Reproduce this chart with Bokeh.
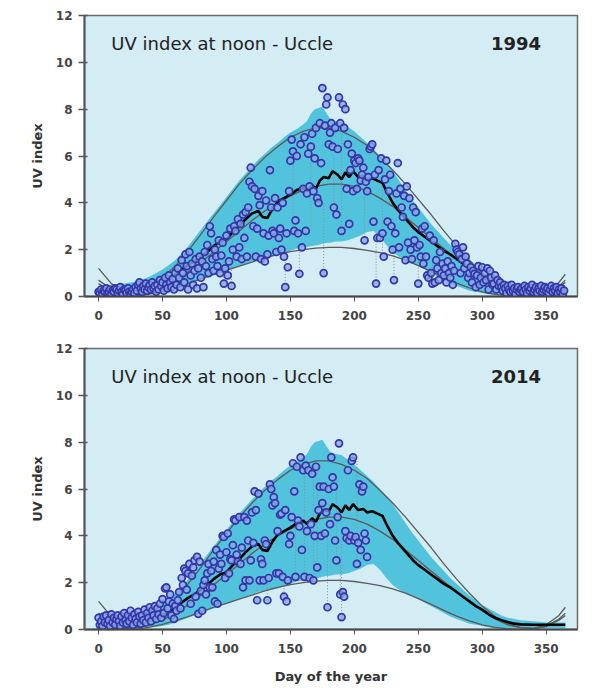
from bokeh.plotting import figure
from bokeh.layouts import column
from bokeh.models import Label, FixedTicker, Range1d
from bokeh.embed import file_html
from bokeh.resources import INLINE

# ---------------- data ----------------
x_ticks = [0, 50, 100, 150, 200, 250, 300, 350]
y_ticks = [0, 2, 4, 6, 8, 10, 12]

curve_day = [0, 10, 20, 30, 40, 50, 60, 70, 80, 90, 100, 110, 120, 130, 140, 150, 160, 170, 180,
             190, 200, 210, 220, 230, 240, 250, 260, 270, 280, 290, 300, 310, 320, 330, 340, 350, 360, 365]
clear_upper = [1.2, 0.55, 0.2, 0.15, 0.35, 0.8, 1.3, 1.95, 2.65, 3.4, 4.1, 4.8, 5.4, 5.95, 6.4, 6.8, 7.05, 7.2, 7.2,
               7.05, 6.8, 6.45, 5.95, 5.4, 4.8, 4.15, 3.5, 2.8, 2.15, 1.55, 1.0, 0.55, 0.25, 0.08, 0.05, 0.2, 0.6, 0.95]
clear_middle = [0.7, 0.3, 0.1, 0.08, 0.2, 0.4, 0.7, 1.05, 1.45, 1.9, 2.35, 2.8, 3.25, 3.65, 4.0, 4.3, 4.55, 4.7, 4.8,
                4.8, 4.7, 4.5, 4.2, 3.85, 3.4, 2.95, 2.5, 2.05, 1.6, 1.2, 0.8, 0.45, 0.2, 0.08, 0.05, 0.15, 0.45, 0.7]
clear_lower = [0.55, 0.2, 0.05, 0.02, 0.1, 0.22, 0.38, 0.55, 0.75, 0.95, 1.12, 1.3, 1.47, 1.65, 1.8, 1.92, 2.0, 2.07, 2.1,
               2.1, 2.05, 1.97, 1.87, 1.73, 1.55, 1.32, 1.07, 0.82, 0.57, 0.37, 0.2, 0.09, 0.03, 0.0, 0.03, 0.12, 0.4, 0.6]

band_day = [5, 10, 15, 20, 25, 30, 35, 40, 45, 50, 55, 60, 65, 70, 75, 80, 85, 90, 95, 100, 105, 110, 115, 120,
            125, 130, 135, 140, 145, 150, 155, 160, 163, 166, 169, 172, 175, 178, 181, 185, 190, 195, 200, 205,
            210, 215, 220, 225, 230, 235, 240, 245, 250, 255, 260, 265, 270, 275, 280, 285, 290, 295, 300, 305,
            310, 315, 320, 325, 330, 340, 350, 360, 365]
band_hi = [0.35, 0.45, 0.5, 0.55, 0.6, 0.65, 0.75, 0.85, 1.0, 1.15, 1.35, 1.55, 1.85, 2.15, 2.5, 2.85, 3.2, 3.55, 3.9,
           4.25, 4.6, 4.95, 5.25, 5.55, 5.85, 6.1, 6.35, 6.55, 6.8, 7.0, 7.15, 7.35, 7.5, 7.8, 8.0, 8.05, 8.1, 7.85,
           7.6, 7.5, 7.45, 7.25, 7.05, 6.8, 6.55, 6.3, 6.0, 5.7, 5.35, 4.95, 4.55, 4.15, 3.8, 3.45, 3.1, 2.8, 2.5,
           2.2, 1.95, 1.7, 1.45, 1.25, 1.05, 0.9, 0.75, 0.6, 0.5, 0.45, 0.4, 0.35, 0.3, 0.3, 0.3]
band_lo = [0.05, 0.05, 0.05, 0.05, 0.05, 0.05, 0.08, 0.1, 0.12, 0.15, 0.2, 0.3, 0.4, 0.5, 0.6, 0.7, 0.8, 0.9, 1.0,
           1.1, 1.2, 1.3, 1.4, 1.5, 1.6, 1.65, 1.7, 1.75, 1.85, 1.95, 2.05, 2.1, 2.12, 2.15, 2.18, 2.2, 2.25, 2.28,
           2.3, 2.35, 2.35, 2.4, 2.5, 2.6, 2.75, 2.8, 2.55, 2.2, 1.9, 1.7, 1.55, 1.45, 1.3, 1.15, 1.0, 0.85, 0.7,
           0.55, 0.45, 0.35, 0.25, 0.2, 0.15, 0.1, 0.08, 0.06, 0.05, 0.05, 0.05, 0.05, 0.05, 0.05, 0.05]

mean_day = [0, 5, 10, 15, 20, 25, 30, 35, 40, 45, 50, 55, 60, 65, 70, 75, 80, 85, 90, 95, 100, 105, 110, 115, 120,
            125, 128, 132, 136, 140, 145, 150, 155, 160, 163, 167, 170, 173, 176, 180, 183, 187, 190, 193, 196, 199,
            203, 207, 210, 214, 218, 222, 226, 230, 234, 238, 242, 246, 250, 255, 260, 265, 270, 275, 280, 285, 290,
            295, 300, 305, 310, 315, 320, 325, 330, 340, 350, 360, 365]
mean_uv = [0.2, 0.2, 0.2, 0.22, 0.25, 0.28, 0.3, 0.33, 0.4, 0.5, 0.6, 0.75, 0.95, 1.15, 1.35, 1.5, 1.7, 1.9, 2.15,
           2.35, 2.45, 2.75, 3.0, 3.3, 3.55, 3.65, 3.4, 3.35, 3.75, 4.05, 4.2, 4.35, 4.55, 4.65, 4.5, 4.75, 4.6, 4.95,
           5.1, 5.05, 5.35, 5.2, 5.0, 5.3, 5.1, 5.35, 5.1, 5.15, 5.0, 5.05, 4.95, 4.85, 4.4, 4.0, 3.7, 3.45, 3.2, 2.95,
           2.75, 2.55, 2.35, 2.15, 1.95, 1.8, 1.6, 1.4, 1.2, 1.0, 0.85, 0.65, 0.5, 0.4, 0.32, 0.25, 0.22, 0.2, 0.2,
           0.2, 0.2]

# daily noon UV index, day 0 .. 364 (1994)
uv_1994 = [0.2, 0.15, 0.3, 0.1, 0.25, 0.2, 0.35, 0.15, 0.2, 0.3, 0.1, 0.25, 0.2, 0.35, 0.3, 0.15, 0.25, 0.4, 0.2, 0.1,
           0.3, 0.25, 0.15, 0.35, 0.2, 0.1, 0.2, 0.3, 0.15, 0.4, 0.25, 0.5, 0.6, 0.35, 0.2, 0.45, 0.3, 0.55, 0.25, 0.4,
           0.5, 0.3, 0.6, 0.35, 0.45, 0.2, 0.5, 0.3, 0.7, 0.45, 0.6, 0.25, 0.8, 0.5, 0.35, 0.9, 0.6, 0.4, 0.75, 0.3,
           1.0, 0.5, 1.2, 0.8, 0.4, 1.55, 1.0, 0.6, 1.8, 1.3, 0.3, 1.9, 0.9, 1.4, 0.5, 1.1, 1.6, 0.35, 1.2, 1.7,
           0.8, 1.5, 0.4, 1.9, 1.3, 2.2, 1.0, 3.0, 2.7, 1.6, 1.1, 2.0, 1.7, 1.3, 2.4, 1.0, 1.75, 2.3, 0.55, 1.2,
           2.6, 0.9, 1.5, 2.9, 0.45, 2.0, 3.0, 2.8, 1.7, 3.3, 2.1, 3.1, 1.6, 3.5, 2.5, 3.6, 1.7, 3.8, 4.9, 5.5,
           4.7, 3.0, 4.6, 1.7, 2.9, 4.3, 3.9, 1.6, 4.5, 2.7, 1.5, 4.1, 1.8, 2.6, 5.4, 3.8, 2.8, 2.7, 4.2, 1.9,
           3.8, 2.5, 2.9, 2.0, 4.0, 1.7, 0.4, 2.7, 1.25, 4.5, 5.8, 6.7, 6.2, 2.8, 3.25, 6.0, 2.7, 0.97, 6.5, 2.1,
           4.6, 6.8, 2.8, 4.4, 6.1, 4.7, 6.4, 6.95, 4.5, 5.9, 7.2, 4.2, 4.0, 7.4, 5.7, 8.9, 1.0, 7.3, 8.2, 8.5,
           6.5, 7.0, 7.4, 6.4, 3.8, 7.2, 3.5, 6.3, 8.5, 7.4, 2.8, 8.2, 7.2, 8.0, 4.6, 6.5, 3.1, 5.4, 6.1, 4.5,
           5.8, 5.7, 4.6, 5.9, 5.8, 4.95, 5.2, 5.5, 2.4, 4.9, 4.5, 5.1, 6.3, 6.4, 6.5, 3.2, 5.2, 0.55, 2.5, 5.4,
           2.5, 5.9, 2.7, 1.7, 5.0, 5.8, 3.2, 4.5, 5.2, 3.0, 2.0, 0.7, 2.7, 4.4, 5.7, 2.1, 4.6, 3.8, 3.4, 4.3,
           1.55, 4.7, 2.3, 4.2, 2.0, 1.6, 3.8, 2.4, 3.6, 2.1, 0.55, 2.2, 1.7, 2.9, 1.4, 3.0, 1.7, 0.9, 0.8, 2.6,
           1.0, 0.55, 2.4, 0.6, 1.55, 1.2, 0.7, 1.9, 1.0, 1.4, 0.9, 1.2, 0.6, 1.5, 1.0, 0.8, 1.3, 0.5, 1.1, 2.25,
           2.0, 1.9, 1.8, 1.0, 1.6, 2.1, 1.2, 1.7, 1.4, 0.8, 1.0, 1.25, 0.6, 1.1, 0.97, 0.4, 0.9, 1.3, 0.5, 0.8,
           1.25, 0.6, 1.0, 0.7, 1.2, 0.3, 1.1, 0.8, 0.5, 0.55, 0.9, 0.3, 0.7, 0.45, 0.6, 0.4, 0.25, 0.5, 0.35, 0.15,
           0.45, 0.3, 0.2, 0.5, 0.25, 0.35, 0.1, 0.3, 0.4, 0.2, 0.3, 0.35, 0.2, 0.45, 0.3, 0.15, 0.4, 0.25, 0.35,
           0.5, 0.2, 0.3, 0.4, 0.15, 0.35, 0.25, 0.45, 0.2, 0.3, 0.4, 0.25, 0.35, 0.15, 0.3, 0.45, 0.2, 0.35, 0.25,
           0.4, 0.15, 0.3, 0.2, 0.35, 0.1, 0.25]

# daily noon UV index, day 0 .. 210 (2014)
uv_2014 = [0.5, 0.2, 0.35, 0.15, 0.55, 0.3, 0.6, 0.25, 0.4, 0.15, 0.65, 0.3, 0.5, 0.2, 0.45, 0.6, 0.35, 0.15, 0.55,
           0.3, 0.7, 0.4, 0.25, 0.6, 0.35, 0.8, 0.5, 0.2, 0.65, 0.45, 0.3, 0.75, 0.55, 0.25, 0.6, 0.4, 0.85, 0.3,
           0.7, 0.5, 0.95, 0.35, 0.8, 0.6, 1.0, 0.45, 0.9, 0.65, 1.1, 0.5,
           1.3, 0.7, 1.75, 1.8, 0.9, 1.2, 1.5, 0.6, 1.1, 0.45,
           1.0, 0.8, 1.25, 1.6, 0.9, 2.2, 1.9, 2.6, 2.5, 1.7, 2.4, 2.8, 1.1, 2.3, 2.65,
           2.95, 1.4, 3.1, 0.67, 2.9, 1.65, 0.8, 1.9, 2.1, 1.5, 2.4, 2.8, 1.8, 2.5, 1.8,
           2.9, 1.2, 3.4, 1.1, 2.6, 3.2, 2.8, 4.0, 3.95, 2.2, 3.3, 4.1, 2.4, 3.0, 2.95,
           3.6, 4.7, 4.65, 3.2, 2.9, 4.8, 2.8, 3.5, 1.8, 4.8, 2.1, 4.65, 3.8, 2.1, 2.95,
           5.0, 3.7, 5.9, 5.1, 1.25, 5.8, 2.1, 3.0, 2.8, 2.1, 3.8, 3.65, 1.25, 2.2, 6.2,
           6.0, 5.3, 5.65, 5.4, 2.4, 4.2, 2.4, 4.9, 4.95, 2.25, 1.4, 5.1, 1.2, 2.1, 3.65,
           4.0, 4.8, 7.1, 5.9, 2.25, 6.95, 4.65, 4.4, 7.35, 3.4, 6.8, 2.25, 7.0, 4.2, 6.8,
           2.2, 4.5, 6.65, 2.1, 4.0, 6.95, 2.65, 5.1, 6.1, 4.0, 5.4, 6.1, 4.1, 5.0, 0.95,
           6.0, 4.5, 7.35, 6.5, 6.1, 3.8, 2.95, 4.8, 7.95, 1.5, 0.53, 1.6, 1.4, 4.2, 3.9,
           6.8, 3.8, 4.0, 7.2, 7.35, 3.8, 3.95, 2.8, 3.7, 6.2, 3.4, 5.9, 6.1, 4.1, 3.8, 3.1]

# dotted vertical connectors (day, top, bottom)
drop_day_1994 = [98, 104, 146, 152, 157, 166, 176, 184, 190, 208, 217, 222, 231, 250, 261]
drop_top_1994 = [1.7, 1.5, 1.7, 6.2, 2.1, 6.4, 4.0, 6.4, 7.4, 5.5, 2.5, 5.4, 2.0, 1.5, 1.5]
drop_bot_1994 = [0.55, 0.45, 0.4, 2.8, 0.97, 3.0, 1.0, 3.8, 2.8, 2.4, 0.55, 1.7, 0.7, 0.55, 0.55]

drop_day_2014 = [124, 132, 145, 154, 161, 168, 171, 179, 186, 189, 190, 202]
drop_top_2014 = [2.1, 2.2, 2.25, 4.65, 6.8, 6.65, 6.95, 4.0, 6.5, 2.9, 4.0, 7.2]
drop_bot_2014 = [1.25, 1.25, 1.2, 2.25, 2.25, 2.1, 2.65, 0.95, 2.95, 1.5, 0.53, 2.8]

# ---------------- styling ----------------
FONT = "DejaVu Sans"
BG = "#d4ecf3"
BAND = "#52c3dc"
CURVE = "#5a5a5a"
PT_LINE = "#3535a8"
PT_FILL = "#86a9e6"


def make_panel(year, uv, drop_day, drop_top, drop_bot, border_top, border_bottom, xlabel):
    p = figure(frame_width=493, frame_height=281, x_range=Range1d(-11, 374.5), y_range=Range1d(0, 12),
               output_backend="svg", toolbar_location=None,
               min_border_left=84, min_border_right=12,
               min_border_top=border_top, min_border_bottom=border_bottom)
    p.background_fill_color = BG
    p.border_fill_color = "white"
    p.outline_line_color = "#6a6a6a"
    p.outline_line_width = 1.5
    p.xgrid.visible = False
    p.ygrid.visible = False

    p.varea(x=band_day, y1=band_lo, y2=band_hi, fill_color=BAND, fill_alpha=1.0)
    p.segment(x0=drop_day, y0=drop_bot, x1=drop_day, y1=drop_top, line_color="#8a8a9a",
              line_width=1, line_dash="1 2")
    for c in (clear_upper, clear_middle, clear_lower):
        p.line(curve_day, c, line_color=CURVE, line_width=1.3)
    p.line(mean_day, mean_uv, line_color="black", line_width=2.6)
    days = list(range(len(uv)))
    p.scatter(days, uv, marker="circle", size=7, line_color=PT_LINE, line_width=1.7,
              fill_color=PT_FILL, fill_alpha=0.8)

    p.add_layout(Label(x=10, y=10.8, text="UV index at noon - Uccle", text_font=FONT,
                       text_font_size="18px", text_baseline="middle", text_color="#222222"))
    p.add_layout(Label(x=346, y=10.8, text=year, text_font=FONT, text_font_size="18px",
                       text_font_style="bold", text_align="right", text_baseline="middle",
                       text_color="#222222"))

    xa = p.xaxis[0]
    xa.ticker = FixedTicker(ticks=x_ticks)
    xa.axis_line_color = "#444444"
    xa.axis_line_width = 2
    xa.major_tick_in = 0
    xa.major_tick_out = 5
    xa.major_tick_line_color = "#555555"
    xa.minor_tick_line_color = None
    xa.major_label_standoff = 9
    xa.major_label_text_font = FONT
    xa.major_label_text_font_size = "12px"
    xa.major_label_text_font_style = "bold"
    xa.major_label_text_color = "#444444"
    if xlabel:
        xa.axis_label = xlabel
        xa.axis_label_text_font = FONT
        xa.axis_label_text_font_size = "13px"
        xa.axis_label_text_font_style = "bold"
        xa.axis_label_text_color = "#333333"
        xa.axis_label_standoff = 13

    ya = p.yaxis[0]
    ya.ticker = FixedTicker(ticks=y_ticks)
    ya.axis_line_color = "#555555"
    ya.axis_line_width = 2
    ya.major_tick_in = 3
    ya.major_tick_out = 6
    ya.major_tick_line_color = "#555555"
    ya.major_tick_line_width = 1.5
    ya.minor_tick_line_color = None
    ya.major_label_standoff = 6
    ya.major_label_text_font = FONT
    ya.major_label_text_font_size = "12px"
    ya.major_label_text_font_style = "bold"
    ya.major_label_text_color = "#444444"
    ya.axis_label = "UV index"
    ya.axis_label_text_font = FONT
    ya.axis_label_text_font_size = "13px"
    ya.axis_label_text_font_style = "bold"
    ya.axis_label_text_color = "#333333"
    ya.axis_label_standoff = 8
    return p


p1 = make_panel("1994", uv_1994, drop_day_1994, drop_top_1994, drop_bot_1994, 15, 40, None)
p2 = make_panel("2014", uv_2014, drop_day_2014, drop_top_2014, drop_bot_2014, 12, 58, "Day of the year")

layout = column(p1, p2, spacing=0)
open("out.html", "w").write(file_html(layout, INLINE))
